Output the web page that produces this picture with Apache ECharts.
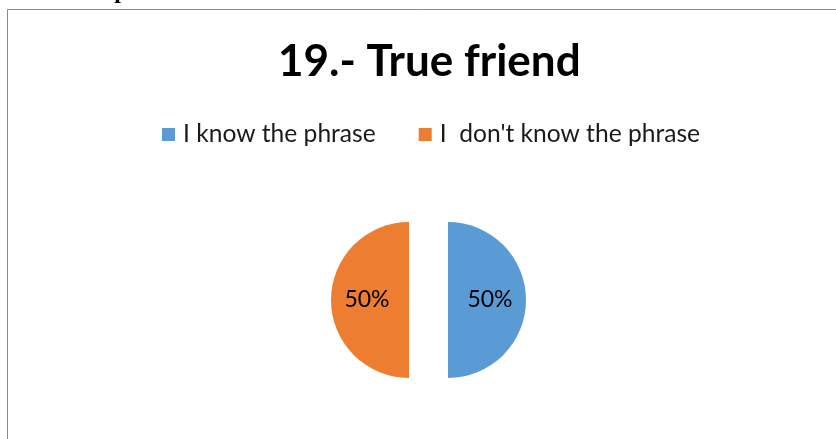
<!DOCTYPE html>
<html>
<head>
<meta charset="utf-8">
<script src="https://cdn.jsdelivr.net/npm/echarts@6/dist/echarts.min.js"></script>
<style>
  html, body { margin: 0; padding: 0; background: #ffffff; }
  #chart { width: 836px; height: 439px; }
</style>
</head>
<body>
<div id="chart"></div>
<script>
// Survey answers for item 19
const categories = ['I know the phrase', 'I  don\'t know the phrase'];
const percentages = [50, 50];
const sliceColors = ['#5B9BD5', '#ED7D31'];
const chartTitle = '19.- True friend';
const captionAbove = 'Graph 19: True friend';

const chart = echarts.init(document.getElementById('chart'), null, { renderer: 'canvas' });

const pieData = categories.map((name, i) => ({
  name: name,
  value: percentages[i],
  selected: true,
  itemStyle: { color: sliceColors[i] }
}));

chart.setOption({
  animation: false,
  backgroundColor: '#ffffff',
  title: {
    text: chartTitle,
    left: 273,
    top: 35,
    textStyle: {
      fontFamily: 'Lato',
      fontWeight: 'bold',
      fontSize: 44,
      color: '#000000'
    }
  },
  legend: {
    data: categories,
    top: 117,
    left: 157,
    icon: 'rect',
    itemWidth: 13,
    itemHeight: 13,
    itemGap: 43,
    selectedMode: false,
    textStyle: {
      fontFamily: 'Lato',
      fontSize: 24.6,
      color: '#1a1a1a',
      padding: [0, 0, 0, 3]
    }
  },
  graphic: [
    {
      type: 'rect',
      silent: true,
      shape: { x: 7.5, y: 9.5, width: 900, height: 500 },
      style: { fill: 'none', stroke: '#8a8a8a', lineWidth: 1 }
    },
    {
      type: 'text',
      silent: true,
      x: 73,
      y: 4,
      style: {
        text: captionAbove,
        font: 'bold 24px "Liberation Serif", serif',
        fill: '#000000',
        verticalAlign: 'bottom'
      }
    }
  ],
  series: [
    {
      type: 'pie',
      center: [428.5, 300],
      radius: [0, 78],
      startAngle: 90,
      clockwise: true,
      selectedMode: 'multiple',
      selectedOffset: 19.5,
      data: pieData,
      label: {
        show: true,
        position: 'inside',
        formatter: '{d}%',
        fontFamily: 'Lato',
        fontSize: 23,
        color: '#000000'
      },
      labelLine: { show: false },
      emphasis: { disabled: true }
    }
  ]
});
</script>
</body>
</html>
